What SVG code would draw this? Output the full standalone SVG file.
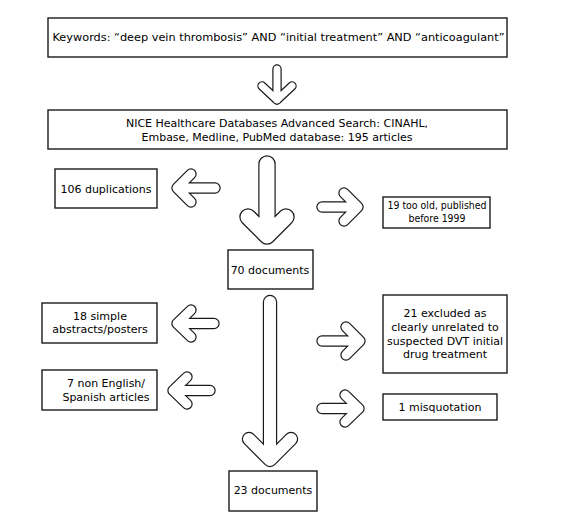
<svg xmlns="http://www.w3.org/2000/svg" width="573" height="528" viewBox="0 0 573 528">
<style>
.box{fill:#fff;stroke:#1a1a1a;stroke-width:1.4}
.t{font-family:"DejaVu Sans","Liberation Sans",sans-serif;font-size:11px;fill:#000;text-anchor:middle}
.ao{fill:none;stroke:#1a1a1a;stroke-linecap:round;stroke-linejoin:round}
.ai{fill:none;stroke:#fff;stroke-linecap:round;stroke-linejoin:round}
</style>
<rect width="573" height="528" fill="#fff"/>
<g id="connectors">
  <g id="a1"><path class="ao" stroke-width="9.4" d="M277 69 V100 M262 86 L277 100 L292 86"/><path class="ai" stroke-width="7" d="M277 69 V100 M262 86 L277 100 L292 86"/></g>
  <g id="a2"><path class="ao" stroke-width="17.4" d="M267 164 V236 M248 217 L267 236 L286 217"/><path class="ai" stroke-width="15" d="M267 164 V236 M248 217 L267 236 L286 217"/></g>
  <g id="a3"><path class="ao" stroke-width="14.4" d="M270 302 V460 M249 439 L270 460 L291 439"/><path class="ai" stroke-width="12" d="M270 302 V460 M249 439 L270 460 L291 439"/></g>
  <g id="l1"><path class="ao" stroke-width="11.4" d="M215 188 H177 M191 174 L177 188 L191 202"/><path class="ai" stroke-width="9" d="M215 188 H177 M191 174 L177 188 L191 202"/></g>
  <g id="r1"><path class="ao" stroke-width="11.4" d="M322 207 H358 M344 193 L358 207 L344 221"/><path class="ai" stroke-width="9" d="M322 207 H358 M344 193 L358 207 L344 221"/></g>
  <g id="l2"><path class="ao" stroke-width="11.4" d="M214 323.5 H177 M191 310 L177 323.5 L191 337"/><path class="ai" stroke-width="9" d="M214 323.5 H177 M191 310 L177 323.5 L191 337"/></g>
  <g id="l3"><path class="ao" stroke-width="11.4" d="M210 390.5 H173 M187 377 L173 390.5 L187 404"/><path class="ai" stroke-width="9" d="M210 390.5 H173 M187 377 L173 390.5 L187 404"/></g>
  <g id="r2"><path class="ao" stroke-width="11.4" d="M322 341 H360 M346 327 L360 341 L346 355"/><path class="ai" stroke-width="9" d="M322 341 H360 M346 327 L360 341 L346 355"/></g>
  <g id="r3"><path class="ao" stroke-width="11.4" d="M322 408.5 H359 M345 395 L359 408.5 L345 422"/><path class="ai" stroke-width="9" d="M322 408.5 H359 M345 395 L359 408.5 L345 422"/></g>
</g>
<g id="n1"><rect class="box" x="48" y="18" width="459" height="39"/><text class="t" x="278.5" y="41" textLength="452" lengthAdjust="spacingAndGlyphs">Keywords: “deep vein thrombosis” AND “initial treatment” AND “anticoagulant”</text></g>
<g id="n2"><rect class="box" x="48" y="110" width="459" height="39"/><text class="t" x="277" y="127">NICE Healthcare Databases Advanced Search: CINAHL,</text><text class="t" x="277" y="141">Embase, Medline, PubMed database: 195 articles</text></g>
<g id="n3"><rect class="box" x="55" y="169" width="102" height="39"/><text class="t" x="106" y="193">106 duplications</text></g>
<g id="n4"><rect class="box" x="383" y="197" width="107" height="31"/><text class="t" x="437" y="209" textLength="99" lengthAdjust="spacingAndGlyphs">19 too old, published</text><text class="t" x="437" y="222" textLength="57" lengthAdjust="spacingAndGlyphs">before 1999</text></g>
<g id="n5"><rect class="box" x="228" y="250" width="85" height="39"/><text class="t" x="270" y="274">70 documents</text></g>
<g id="n6"><rect class="box" x="42" y="303" width="115" height="40"/><text class="t" x="100" y="320">18 simple</text><text class="t" x="100" y="333">abstracts/posters</text></g>
<g id="n7"><rect class="box" x="42" y="370" width="115" height="40"/><text class="t" x="106" y="387">7 non English/</text><text class="t" x="106" y="401">Spanish articles</text></g>
<g id="n8"><rect class="box" x="383" y="295" width="124" height="78"/><text class="t" x="445" y="317">21 excluded as</text><text class="t" x="445" y="331">clearly unrelated to</text><text class="t" x="445" y="345">suspected DVT initial</text><text class="t" x="445" y="358">drug treatment</text></g>
<g id="n9"><rect class="box" x="383" y="394" width="114" height="26"/><text class="t" x="440" y="411">1 misquotation</text></g>
<g id="n10"><rect class="box" x="229" y="471" width="88" height="40"/><text class="t" x="273" y="494">23 documents</text></g>
</svg>
